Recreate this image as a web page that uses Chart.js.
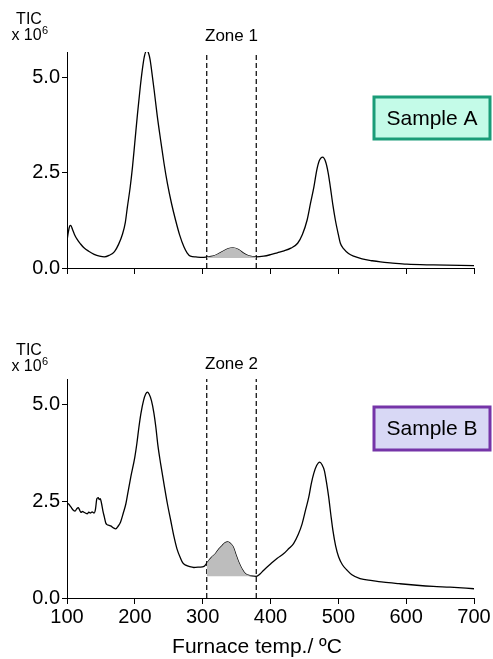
<!DOCTYPE html>
<html>
<head>
<meta charset="utf-8">
<script src="https://cdn.jsdelivr.net/npm/chart.js@4.4.1/dist/chart.umd.min.js"></script>
<style>
  html, body { margin: 0; padding: 0; background: #fff; }
  #wrap { position: relative; width: 493px; height: 659px; }
  canvas { position: absolute; left: 0; }
  #cA { top: 0; }
  #cB { top: 300px; }
</style>
</head>
<body>
<div id="wrap">
  <canvas id="cA" width="493" height="300"></canvas>
  <canvas id="cB" width="493" height="359"></canvas>
</div>
<script>
// ---- Data (temperature in ºC, TIC in units of 10^6) ----
const xTicks = [100, 200, 300, 400, 500, 600, 700];
const yTicks = [0, 2.5, 5.0];

const tempA = [100, 102, 104, 105.5, 108, 111, 115, 120, 125, 132, 140, 148, 155, 162, 170, 176, 182, 186, 189, 193, 196.6, 200, 204, 208, 211, 214, 217.6, 220, 222.5, 225, 228.4, 233, 238, 243, 248, 254, 260, 266, 272.5, 277, 282, 290, 300, 306, 315, 322, 330, 338, 345, 352, 360, 368, 379, 390, 400, 410, 420, 430, 440, 447, 454, 459, 464, 468, 472, 476.9, 481, 485, 488.2, 492, 495.6, 500, 503, 508, 515, 522.5, 535, 550, 562, 580, 601, 640, 700];
const ticA  = [0.72, 0.95, 1.10, 1.12, 1.02, 0.88, 0.75, 0.63, 0.53, 0.44, 0.36, 0.31, 0.29, 0.33, 0.43, 0.62, 0.90, 1.20, 1.60, 2.10, 2.66, 3.30, 4.06, 4.75, 5.20, 5.55, 5.71, 5.65, 5.47, 5.15, 4.68, 4.00, 3.36, 2.75, 2.22, 1.70, 1.26, 0.87, 0.55, 0.40, 0.31, 0.29, 0.28, 0.29, 0.31, 0.36, 0.44, 0.51, 0.53, 0.49, 0.39, 0.32, 0.29, 0.31, 0.35, 0.40, 0.45, 0.52, 0.65, 0.88, 1.26, 1.70, 2.13, 2.55, 2.82, 2.91, 2.80, 2.50, 2.13, 1.65, 1.26, 0.88, 0.65, 0.50, 0.38, 0.31, 0.24, 0.19, 0.16, 0.13, 0.10, 0.08, 0.06];

const tempB = [100, 102, 104, 106, 109, 112, 114, 116.6, 118, 120.6, 123, 125, 127, 130, 132, 135, 137, 140, 142, 144, 146, 147.5, 149, 151, 153, 155, 157, 159, 162, 165, 168, 172, 175, 179, 183, 186.8, 190, 194, 200, 203, 206, 209, 212.8, 216, 218.6, 221, 224.5, 228, 231, 234, 238, 243, 248, 253, 257.8, 262, 267.6, 271, 275, 281, 287, 295, 302, 306, 313, 319, 324, 329, 333, 337, 341, 345, 349, 353, 358, 363, 370, 379, 385, 390, 400, 410, 419.6, 427, 434, 441, 446.6, 452, 456.4, 460, 463.7, 468, 472.5, 476, 479.4, 482.5, 485.8, 489, 492, 496, 500.5, 506, 512.8, 520, 532, 550, 566.6, 590, 615.7, 640, 664.7, 700];
const ticB  = [2.45, 2.44, 2.40, 2.35, 2.28, 2.25, 2.30, 2.34, 2.30, 2.22, 2.24, 2.22, 2.20, 2.18, 2.22, 2.20, 2.23, 2.20, 2.30, 2.57, 2.60, 2.55, 2.57, 2.44, 2.25, 2.10, 1.95, 1.90, 1.88, 1.86, 1.82, 1.79, 1.85, 1.97, 2.20, 2.44, 2.75, 3.13, 3.65, 4.00, 4.42, 4.78, 5.11, 5.28, 5.33, 5.28, 5.11, 4.80, 4.42, 3.95, 3.48, 2.95, 2.44, 2.00, 1.58, 1.28, 1.02, 0.90, 0.85, 0.81, 0.79, 0.80, 0.82, 0.90, 1.05, 1.15, 1.27, 1.36, 1.43, 1.45, 1.41, 1.32, 1.12, 0.93, 0.75, 0.63, 0.58, 0.56, 0.63, 0.72, 0.88, 1.03, 1.15, 1.28, 1.41, 1.65, 1.92, 2.30, 2.61, 2.95, 3.22, 3.43, 3.52, 3.45, 3.30, 3.00, 2.61, 2.15, 1.75, 1.35, 1.06, 0.86, 0.72, 0.60, 0.50, 0.45, 0.41, 0.37, 0.33, 0.30, 0.28, 0.24];

const zone1 = [306, 379];
const zone2 = [306, 379];
const zone1Base = 0.26;
const zone2Base = 0.56;
const yMax = 5.67;
const xTitle = 'Furnace temp./ ºC';

// ---- helpers ----
const FF = "'Liberation Sans', Arial, sans-serif";
Chart.defaults.font.family = FF;
Chart.defaults.color = '#000';

const pts = (xs, ys) => xs.map((x, i) => ({ x: x, y: ys[i] }));
const inZone = (xs, ys, z) => pts(xs, ys).filter(p => p.x >= z[0] && p.x <= z[1]);

const annotPlugin = {
  id: 'annot',
  afterDraw(chart, args, o) {
    const ctx = chart.ctx;
    const xs = chart.scales.x;
    ctx.save();
    ctx.fillStyle = '#000';
    ctx.textBaseline = 'middle';
    // zone label
    ctx.font = "17px " + FF;
    ctx.textAlign = 'center';
    const zx = xs.getPixelForValue((o.zone[0] + o.zone[1]) / 2);
    ctx.fillText(o.zoneLabel, zx, o.zoneY);
    // TIC label
    ctx.font = "16px " + FF;
    ctx.fillText('TIC', 29, o.ticY);
    ctx.textAlign = 'left';
    const base = 'x 10';
    const w = ctx.measureText(base).width;
    const sx = 30 - (w + 7) / 2;
    ctx.fillText(base, sx, o.ticY + 16);
    ctx.font = "11px " + FF;
    ctx.fillText('6', sx + w + 0.5, o.ticY + 11);
    // sample box
    const b = o.box;
    ctx.fillStyle = o.boxFill;
    ctx.fillRect(b[0], b[1], b[2], b[3]);
    ctx.strokeStyle = o.boxStroke;
    ctx.lineWidth = 3;
    ctx.strokeRect(b[0], b[1], b[2], b[3]);
    ctx.fillStyle = '#000';
    ctx.textAlign = 'center';
    ctx.font = "21px " + FF;
    ctx.fillText(o.boxLabel, b[0] + b[2] / 2, b[1] + b[3] / 2 + 1);
    // x-axis title
    if (o.xTitle) {
      ctx.font = "21px " + FF;
      ctx.fillText(o.xTitle, o.xTitleX, o.xTitleY);
    }
    ctx.restore();
  }
};

function makeChart(id, temps, tics, zone, zoneBase, showX, H, areaTop, areaBottom, annot) {
  const vline = (xv) => ({
    data: [{ x: xv, y: 0 }, { x: xv, y: yMax }],
    borderColor: '#000', borderWidth: 1.2, borderDash: [5, 3],
    pointRadius: 0, fill: false, tension: 0
  });
  return new Chart(document.getElementById(id), {
    type: 'line',
    data: {
      datasets: [
        {
          data: inZone(temps, tics, zone),
          borderWidth: 0, borderColor: 'rgba(0,0,0,0)',
          backgroundColor: '#bdbdbd',
          fill: { value: zoneBase },
          pointRadius: 0, cubicInterpolationMode: 'monotone'
        },
        {
          data: pts(temps, tics),
          borderColor: '#000', borderWidth: 1.3,
          pointRadius: 0, fill: false, cubicInterpolationMode: 'monotone'
        },
        vline(zone[0]),
        vline(zone[1])
      ]
    },
    options: {
      responsive: false,
      animation: false,
      devicePixelRatio: 1,
      layout: { padding: { top: areaTop, right: 19, left: 0, bottom: 0 } },
      plugins: { legend: { display: false }, tooltip: { enabled: false }, annot: annot },
      scales: {
        x: {
          type: 'linear', min: 100, max: 700,
          afterBuildTicks: (s) => { s.ticks = xTicks.map(v => ({ value: v })); },
          afterFit: (s) => { s.height = H - areaBottom; },
          ticks: { display: showX, font: { size: 20 }, color: '#000', padding: 1, maxRotation: 0,
                   callback: (v) => String(v) },
          grid: { display: true, drawOnChartArea: false, drawTicks: true, tickLength: 6, color: '#000', lineWidth: 1 },
          border: { display: true, color: '#000', width: 1 }
        },
        y: {
          type: 'linear', min: 0, max: yMax,
          afterBuildTicks: (s) => { s.ticks = yTicks.map(v => ({ value: v })); },
          afterFit: (s) => { s.width = 67; },
          ticks: { font: { size: 20 }, color: '#000', padding: 2, callback: (v) => Number(v).toFixed(1) },
          grid: { display: true, drawOnChartArea: false, drawTicks: true, tickLength: 5, color: '#000', lineWidth: 1 },
          border: { display: true, color: '#000', width: 1 }
        }
      }
    },
    plugins: [annotPlugin]
  });
}

makeChart('cA', tempA, ticA, zone1, zone1Base, false, 300, 52, 268, {
  zone: zone1, zoneLabel: 'Zone 1', zoneY: 36, ticY: 20,
  box: [374, 97, 116, 42], boxFill: '#c4fbe8', boxStroke: '#1a9c78', boxLabel: 'Sample A'
});
makeChart('cB', tempB, ticB, zone2, zone2Base, true, 359, 79, 298, {
  zone: zone2, zoneLabel: 'Zone 2', zoneY: 64, ticY: 51,
  box: [374, 107, 116, 43], boxFill: '#d8d8f5', boxStroke: '#7534a8', boxLabel: 'Sample B',
  xTitle: xTitle, xTitleX: 257, xTitleY: 347
});
</script>
</body>
</html>
